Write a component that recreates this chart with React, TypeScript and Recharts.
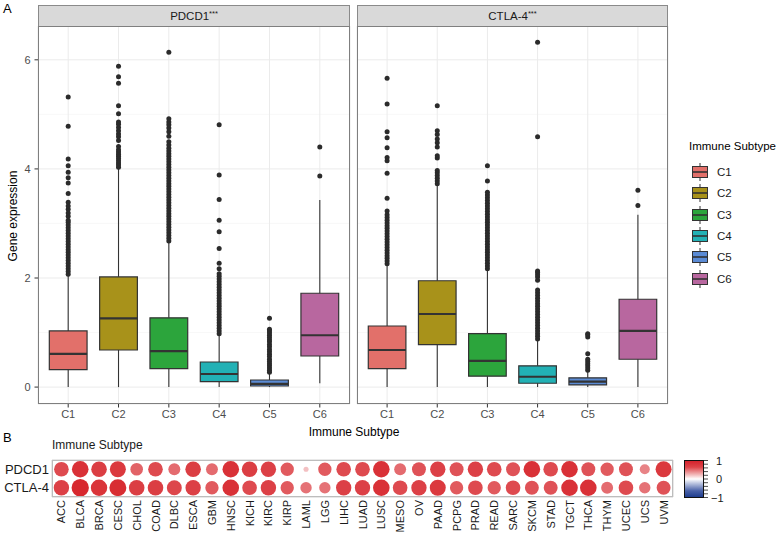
import {
  ScatterChart,
  Scatter,
  XAxis,
  YAxis,
  ZAxis,
  CartesianGrid,
  ReferenceArea,
  ReferenceLine,
  Cell,
} from 'recharts'

const FONT = '"Liberation Sans", Arial, Helvetica, sans-serif'

// ---- panel A: boxplots ----
const subtypes = ['C1', 'C2', 'C3', 'C4', 'C5', 'C6']
const subtypeFills = ['#E2706A', '#A8921A', '#2CA53C', '#22B1B5', '#5B8BD4', '#B8679F']
const yTicks = [0, 2, 4, 6]
const yMinorTicks = [1, 3, 5]

const pdcd1Min = [0, 0, 0, 0, 0, 0.07]
const pdcd1Q1 = [0.32, 0.68, 0.34, 0.1, 0.02, 0.57]
const pdcd1Median = [0.61, 1.26, 0.66, 0.24, 0.06, 0.95]
const pdcd1Q3 = [1.03, 2.02, 1.27, 0.46, 0.13, 1.72]
const pdcd1Max = [2.05, 4.01, 2.65, 0.95, 0.25, 3.43]
const pdcd1Outliers = [
  [2.07, 2.12, 2.17, 2.22, 2.27, 2.32, 2.37, 2.42, 2.47, 2.52, 2.57, 2.62, 2.67, 2.72, 2.77, 2.82, 2.87, 2.92, 2.97, 3.02, 3.06, 3.13, 3.19, 3.26, 3.32, 3.39, 3.55, 3.74, 3.84, 3.94, 4.06, 4.18, 4.78, 5.32],
  [4.03, 4.07, 4.11, 4.15, 4.19, 4.23, 4.27, 4.31, 4.35, 4.41, 4.52, 4.59, 4.64, 4.7, 4.76, 4.82, 4.86, 5.01, 5.16, 5.57, 5.69, 5.88],
  [2.68, 2.73, 2.78, 2.83, 2.88, 2.93, 2.98, 3.03, 3.08, 3.13, 3.18, 3.23, 3.28, 3.33, 3.38, 3.43, 3.48, 3.53, 3.58, 3.63, 3.68, 3.73, 3.78, 3.83, 3.88, 3.93, 3.98, 4.03, 4.08, 4.13, 4.18, 4.23, 4.28, 4.33, 4.38, 4.44, 4.5, 4.6, 4.68, 4.75, 4.81, 4.86, 4.92, 6.14],
  [0.98, 1.03, 1.08, 1.13, 1.18, 1.23, 1.28, 1.33, 1.38, 1.43, 1.48, 1.53, 1.58, 1.63, 1.68, 1.73, 1.78, 1.83, 1.88, 1.93, 1.98, 2.03, 2.08, 2.17, 2.27, 2.54, 2.85, 3.06, 3.44, 3.89, 4.81],
  [0.27, 0.31, 0.35, 0.39, 0.43, 0.47, 0.51, 0.56, 0.6, 0.65, 0.69, 0.74, 0.78, 0.83, 0.87, 0.91, 0.95, 0.99, 1.03, 1.06, 1.26],
  [3.87, 4.4],
]

const ctla4Min = [0, 0, 0, 0, 0, 0]
const ctla4Q1 = [0.34, 0.78, 0.2, 0.07, 0.04, 0.51]
const ctla4Median = [0.68, 1.34, 0.48, 0.19, 0.1, 1.03]
const ctla4Q3 = [1.12, 1.95, 0.98, 0.39, 0.17, 1.61]
const ctla4Max = [2.24, 3.71, 2.15, 0.86, 0.29, 3.16]
const ctla4Outliers = [
  [2.26, 2.31, 2.36, 2.41, 2.46, 2.51, 2.56, 2.61, 2.66, 2.71, 2.76, 2.81, 2.86, 2.91, 2.96, 3.01, 3.06, 3.11, 3.16, 3.23, 3.46, 3.92, 4.15, 4.21, 4.39, 4.57, 4.68, 5.19, 5.66],
  [3.73, 3.78, 3.83, 3.88, 3.93, 3.97, 4.2, 4.24, 4.4, 4.48, 4.55, 4.63, 4.7, 5.16],
  [2.17, 2.22, 2.27, 2.32, 2.37, 2.42, 2.47, 2.52, 2.57, 2.62, 2.67, 2.72, 2.77, 2.82, 2.87, 2.92, 2.97, 3.02, 3.07, 3.12, 3.17, 3.22, 3.27, 3.32, 3.37, 3.42, 3.47, 3.52, 3.57, 3.78, 4.06],
  [0.88, 0.93, 0.98, 1.03, 1.08, 1.13, 1.18, 1.23, 1.28, 1.33, 1.38, 1.43, 1.48, 1.53, 1.58, 1.63, 1.68, 1.73, 1.78, 1.96, 2.02, 2.06, 2.1, 2.13, 4.59, 6.32],
  [0.31, 0.35, 0.39, 0.43, 0.47, 0.51, 0.61, 0.92, 0.96, 0.98],
  [3.33, 3.61],
]

// ---- panel B: correlation dots ----
const cancers = ['ACC', 'BLCA', 'BRCA', 'CESC', 'CHOL', 'COAD', 'DLBC', 'ESCA', 'GBM', 'HNSC', 'KICH', 'KIRC', 'KIRP', 'LAML', 'LGG', 'LIHC', 'LUAD', 'LUSC', 'MESO', 'OV', 'PAAD', 'PCPG', 'PRAD', 'READ', 'SARC', 'SKCM', 'STAD', 'TGCT', 'THCA', 'THYM', 'UCEC', 'UCS', 'UVM']
const genes = ['PDCD1', 'CTLA-4']
const pdcd1Corr = [0.66, 0.85, 0.75, 0.79, 0.49, 0.66, 0.44, 0.75, 0.44, 0.85, 0.75, 0.73, 0.55, 0.08, 0.55, 0.66, 0.66, 0.85, 0.44, 0.6, 0.73, 0.6, 0.73, 0.66, 0.6, 0.85, 0.66, 0.85, 0.6, 0.55, 0.6, 0.31, 0.79]
const ctla4Corr = [0.73, 0.93, 0.83, 0.89, 0.75, 0.75, 0.69, 0.73, 0.55, 0.85, 0.66, 0.73, 0.55, 0.4, 0.4, 0.73, 0.73, 0.85, 0.66, 0.73, 0.79, 0.55, 0.66, 0.55, 0.66, 0.6, 0.6, 0.85, 0.85, 0.44, 0.66, 0.4, 0.6]
const colorbarTicks = [-1, -0.8, -0.6, -0.4, -0.2, 0, 0.2, 0.4, 0.6, 0.8, 1]
const colorbarLabels = ['1', '0', '\u22121']

function corrColor(v: number) {
  const t = Math.sqrt(Math.abs(v))
  const end = v >= 0 ? [214, 32, 38] : [27, 58, 139]
  const c = end.map((e) => Math.round(255 + (e - 255) * t))
  return `rgb(${c[0]},${c[1]},${c[2]})`
}

type Stats = {
  min: number[]
  q1: number[]
  median: number[]
  q3: number[]
  max: number[]
  outliers: number[][]
}

const pdcd1Stats: Stats = { min: pdcd1Min, q1: pdcd1Q1, median: pdcd1Median, q3: pdcd1Q3, max: pdcd1Max, outliers: pdcd1Outliers }
const ctla4Stats: Stats = { min: ctla4Min, q1: ctla4Q1, median: ctla4Median, q3: ctla4Q3, max: ctla4Max, outliers: ctla4Outliers }

const xTicks = subtypes.map((_, i) => i + 1)
const Y_DOMAIN: [number, number] = [-0.31, 6.62]
const HALF = 0.375

const OutlierDot = (props: any) => <circle cx={props.cx} cy={props.cy} r={2.5} fill="#2B2B2B" />

function BoxPanel({ stats, showY, width }: { stats: Stats; showY: boolean; width: number }) {
  const points = stats.outliers.flatMap((vals, i) => vals.map((y) => ({ x: i + 1, y })))
  return (
    <ScatterChart width={width} height={425} margin={{ top: 26, right: 2, bottom: 0, left: showY ? 0 : 2 }}>
      <CartesianGrid yAxisId="minor" vertical={false} stroke="#F3F3F3" strokeWidth={0.6} />
      <CartesianGrid stroke="#EBEBEB" strokeWidth={1} />
      <XAxis
        type="number"
        dataKey="x"
        domain={[0.4, 6.6]}
        ticks={xTicks}
        interval={0}
        allowDataOverflow
        tickFormatter={(v) => subtypes[v - 1]}
        axisLine={false}
        tickSize={3.5}
        tickMargin={3}
        tickLine={{ stroke: '#333' }}
        tick={{ fill: '#4D4D4D', fontSize: 11 }}
        height={21}
      />
      <YAxis
        type="number"
        dataKey="y"
        domain={Y_DOMAIN}
        ticks={yTicks}
        allowDataOverflow
        hide={!showY}
        width={38}
        axisLine={false}
        tickSize={3.5}
        tickMargin={4}
        tickLine={{ stroke: '#333' }}
        tick={{ fill: '#4D4D4D', fontSize: 11 }}
      />
      <YAxis yAxisId="minor" type="number" domain={Y_DOMAIN} ticks={yMinorTicks} allowDataOverflow hide />
      {subtypes.map((s, i) => (
        <ReferenceLine
          key={'wu' + s}
          segment={[{ x: i + 1, y: stats.q3[i] }, { x: i + 1, y: stats.max[i] }]}
          stroke="#333"
          strokeWidth={1.1}
        />
      ))}
      {subtypes.map((s, i) => (
        <ReferenceLine
          key={'wl' + s}
          segment={[{ x: i + 1, y: stats.min[i] }, { x: i + 1, y: stats.q1[i] }]}
          stroke="#333"
          strokeWidth={1.1}
        />
      ))}
      {subtypes.map((s, i) => (
        <ReferenceArea
          key={'box' + s}
          x1={i + 1 - HALF}
          x2={i + 1 + HALF}
          y1={stats.q1[i]}
          y2={stats.q3[i]}
          fill={subtypeFills[i]}
          fillOpacity={1}
          stroke="#333"
          strokeWidth={1.2}
        />
      ))}
      {subtypes.map((s, i) => (
        <ReferenceLine
          key={'med' + s}
          segment={[{ x: i + 1 - HALF, y: stats.median[i] }, { x: i + 1 + HALF, y: stats.median[i] }]}
          stroke="#333"
          strokeWidth={2.2}
        />
      ))}
      <Scatter data={points} fill="#2B2B2B" shape={OutlierDot} isAnimationActive={false} />
    </ScatterChart>
  )
}

function CancerTick(props: any) {
  const { x, y, payload } = props
  return (
    <text
      x={x}
      y={y}
      transform={`rotate(-90 ${x} ${y})`}
      textAnchor="end"
      dominantBaseline="central"
      fontSize={11}
      fill="#1A1A1A"
    >
      {cancers[payload.value - 1]}
    </text>
  )
}

function Strip({ left, width, gene }: { left: number; width: number; gene: string }) {
  return (
    <div
      style={{
        position: 'absolute',
        left,
        top: 5,
        width,
        height: 22,
        boxSizing: 'border-box',
        background: '#D9D9D9',
        border: '1px solid #8A8A8A',
        fontSize: 11.5,
        color: '#1A1A1A',
        display: 'flex',
        alignItems: 'center',
        justifyContent: 'center',
      }}
    >
      {gene}
      <span style={{ fontSize: 7.5, position: 'relative', top: -3 }}>***</span>
    </div>
  )
}

function PanelBorder({ left, top, width, height, color }: { left: number; top: number; width: number; height: number; color: string }) {
  return (
    <div
      style={{
        position: 'absolute',
        left,
        top,
        width,
        height,
        boxSizing: 'border-box',
        border: `1px solid ${color}`,
        pointerEvents: 'none',
      }}
    />
  )
}

export default function App() {
  const corrPoints = cancers.flatMap((_, i) => [
    { x: i + 1, y: 1, z: pdcd1Corr[i] },
    { x: i + 1, y: 2, z: ctla4Corr[i] },
  ])
  const cellEdges = [...cancers.map((_, i) => i + 0.5), cancers.length + 0.5]

  return (
    <div
      style={{
        position: 'absolute',
        left: 0,
        top: 0,
        width: 779,
        height: 536,
        background: '#fff',
        fontFamily: FONT,
        overflow: 'hidden',
      }}
    >
      <div style={{ position: 'absolute', left: 3, top: 1, fontSize: 13, color: '#000' }}>A</div>

      <div style={{ position: 'absolute', left: 0, top: 0 }}>
        <BoxPanel stats={pdcd1Stats} showY width={352} />
      </div>
      <div style={{ position: 'absolute', left: 355, top: 0 }}>
        <BoxPanel stats={ctla4Stats} showY={false} width={315} />
      </div>
      <Strip left={38} width={312} gene="PDCD1" />
      <Strip left={357} width={311} gene="CTLA-4" />
      <PanelBorder left={38} top={26} width={312} height={378} color="#7F7F7F" />
      <PanelBorder left={357} top={26} width={311} height={378} color="#7F7F7F" />

      <div
        style={{
          position: 'absolute',
          left: 13 - 60,
          top: 216 - 8,
          width: 120,
          height: 16,
          lineHeight: '16px',
          textAlign: 'center',
          fontSize: 12,
          color: '#000',
          transform: 'rotate(-90deg)',
        }}
      >
        Gene expression
      </div>
      <div
        style={{
          position: 'absolute',
          left: 294,
          top: 424,
          width: 120,
          height: 16,
          lineHeight: '16px',
          textAlign: 'center',
          fontSize: 12,
          color: '#000',
        }}
      >
        Immune Subtype
      </div>

      {/* legend */}
      <div style={{ position: 'absolute', left: 689, top: 140, fontSize: 11.5, color: '#000', whiteSpace: 'nowrap' }}>
        Immune Subtype
      </div>
      {subtypes.map((s, i) => (
        <div
          key={s}
          style={{ position: 'absolute', left: 691, top: 162 + i * 21.3, height: 20, display: 'flex', alignItems: 'center' }}
        >
          <svg width={18} height={20}>
            <line x1={9} x2={9} y1={1} y2={19} stroke="#333" strokeWidth={1} />
            <rect x={1.5} y={4.5} width={15} height={11} fill={subtypeFills[i]} stroke="#333" strokeWidth={1} />
            <line x1={1.5} x2={16.5} y1={10} y2={10} stroke="#333" strokeWidth={1.6} />
          </svg>
          <span style={{ marginLeft: 8, fontSize: 11.5, color: '#1A1A1A' }}>{s}</span>
        </div>
      ))}

      {/* panel B */}
      <div style={{ position: 'absolute', left: 3, top: 430, fontSize: 13, color: '#000' }}>B</div>
      <div style={{ position: 'absolute', left: 52, top: 438, fontSize: 12, color: '#1A1A1A' }}>Immune Subtype</div>

      <div style={{ position: 'absolute', left: 0, top: 440 }}>
        <ScatterChart width={680} height={96} margin={{ top: 20, right: 7, bottom: 0, left: 0 }}>
          <CartesianGrid xAxisId="cells" yAxisId="cells" stroke="#D2D2D2" strokeWidth={1} />
          <XAxis xAxisId="cells" type="number" domain={[0.5, cancers.length + 0.5]} ticks={cellEdges} interval={0} hide />
          <YAxis yAxisId="cells" type="number" domain={[0.5, 2.5]} ticks={[0.5, 1.5, 2.5]} hide />
          <XAxis
            type="number"
            dataKey="x"
            domain={[0.5, cancers.length + 0.5]}
            ticks={cancers.map((_, i) => i + 1)}
            interval={0}
            axisLine={false}
            tickLine={false}
            tickSize={0}
            tickMargin={3}
            tick={<CancerTick />}
            height={39}
          />
          <YAxis
            type="number"
            dataKey="y"
            domain={[0.5, 2.5]}
            ticks={[1, 2]}
            reversed
            interval={0}
            tickFormatter={(v) => genes[v - 1]}
            axisLine={false}
            tickLine={false}
            tickSize={0}
            tickMargin={3}
            tick={{ fill: '#1A1A1A', fontSize: 13 }}
            width={52}
          />
          <ZAxis type="number" dataKey="z" domain={[0, 1]} range={[0, 254]} />
          <Scatter data={corrPoints} isAnimationActive={false}>
            {corrPoints.map((p, i) => (
              <Cell key={i} fill={corrColor(p.z)} />
            ))}
          </Scatter>
        </ScatterChart>
      </div>
      <PanelBorder left={52} top={460} width={621} height={37} color="#BDBDBD" />

      {/* colour bar */}
      <svg style={{ position: 'absolute', left: 680, top: 452 }} width={60} height={54}>
        <defs>
          <linearGradient id="corrGrad" x1="0" y1="0" x2="0" y2="1">
            <stop offset="0" stopColor="#D3202A" />
            <stop offset="0.18" stopColor="#DE4449" />
            <stop offset="0.38" stopColor="#F2B7B8" />
            <stop offset="0.5" stopColor="#FFFFFF" />
            <stop offset="0.62" stopColor="#B9C3DF" />
            <stop offset="0.82" stopColor="#4961A8" />
            <stop offset="1" stopColor="#1B3A8B" />
          </linearGradient>
        </defs>
        <rect x={4.5} y={8.5} width={19} height={37} fill="url(#corrGrad)" stroke="#111" strokeWidth={1} />
        {colorbarTicks.map((t) => (
          <line key={t} x1={23.5} x2={28} y1={27 - t * 18.5} y2={27 - t * 18.5} stroke="#222" strokeWidth={0.8} />
        ))}
        {colorbarLabels.map((l, i) => (
          <text key={l} x={i === 2 ? 31 : 36} y={27 - (1 - i) * 18.5} dominantBaseline="central" fontSize={11} fill="#1A1A1A" fontFamily={FONT}>
            {l}
          </text>
        ))}
      </svg>
    </div>
  )
}
